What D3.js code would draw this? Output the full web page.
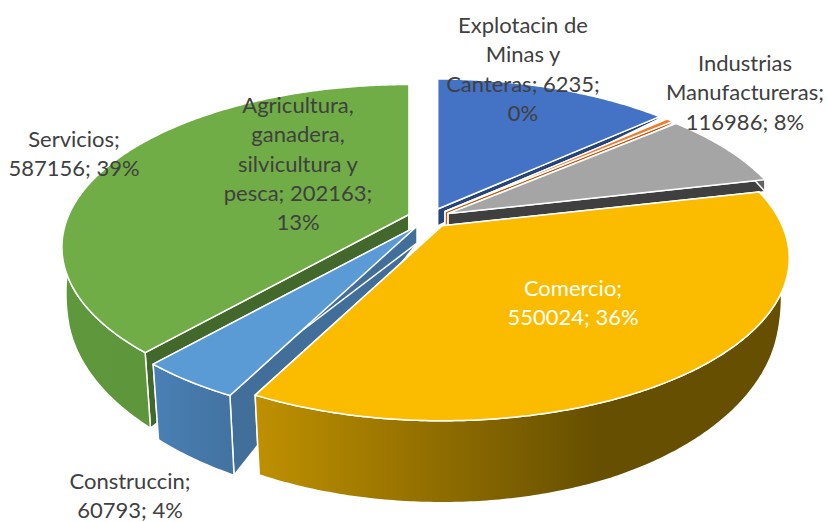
<!DOCTYPE html>
<html><head><meta charset="utf-8">
<script src="https://cdn.jsdelivr.net/npm/d3@7"></script>
<style>html,body{margin:0;padding:0;background:#fff}svg{display:block}</style>
</head><body><svg id="c" width="827" height="522"></svg>
<script>
const categories = ["Agricultura, ganadera, silvicultura y pesca","Explotacin de Minas y Canteras","Industrias Manufactureras","Comercio","Construccin","Servicios"];
const values = [202163, 6235, 116986, 550024, 60793, 587156];
const labelLines = [
  ["Agricultura,","ganadera,","silvicultura y","pesca; 202163;","13%"],
  ["Explotacin de","Minas y","Canteras; 6235;","0%"],
  ["Industrias","Manufactureras;","116986; 8%"],
  ["Comercio;","550024; 36%"],
  ["Construccin;","60793; 4%"],
  ["Servicios;","587156; 39%"]
];
const topColors = ["#4472C4","#ED7D31","#A5A5A5","#FBBC00","#5B9BD5","#70AD47"];
const sideColors = ["#264478","#C55A11","#3F3F3F","#7F6000","#416F9A","#43682B"];
const wallStops = [
  [[0,"#2F5597"],[1,"#2F5597"]],
  [[0,"#C55A11"],[1,"#C55A11"]],
  [[0,"#636363"],[1,"#636363"]],
  [[0,"#BF9000"],[0.64,"#664F00"],[1,"#664F00"]],
  [[0,"#4A80B5"],[1,"#4272A0"]],
  [[0,"#5F983C"],[1,"#5A8E37"]]
];
const labelPos = [[298,105],[523,25],[745,63],[573,288],[130,481],[74,139]];
const labelColors = ["#404040","#404040","#404040","#FFFFFF","#404040","#404040"];

const cx=429, cy=218, A=340, B=156, P=0.2, EXPLODE=0.063, APEX_DEPTH=17;
const svg=d3.select("#c");
const defs=svg.append("defs");
const pie=d3.pie().sort(null).value(d=>d).startAngle(0).endAngle(2*Math.PI);
const arcs=pie(values);
const rimDepth=d3.scaleLinear().domain([-1,-0.67,-0.227,0.1,0.3,0.9,1]).range([0,2,12,45,62,80,82]);
const rimShrink=d3.scaleLinear().domain([-0.2,0.3,0.9]).range([0,0.015,0.022]).clamp(true);
function topPt(a,ax,ay){const u=Math.sin(a),v=-Math.cos(a),w=1-P*v;return [ax+A*u/w, ay+B*v/w];}
function botPt(a,ax,ay){const u=Math.sin(a),v=-Math.cos(a),p=topPt(a,ax,ay);
  const s=rimShrink(v)*(u>0?2:1);
  return [ax+(p[0]-ax)*(1-s), p[1]+rimDepth(v)];}
const line=d3.line();
const order=[0,1,2,5,4,3];
const edge=sel=>sel.attr("stroke","#fff").attr("stroke-width",1.5).attr("stroke-linejoin","round");
order.forEach(i=>{
  const d=arcs[i], mid=(d.startAngle+d.endAngle)/2;
  const ax=cx+A*EXPLODE*Math.sin(mid), ay=cy-B*EXPLODE*Math.cos(mid);
  const n=Math.max(4,Math.ceil((d.endAngle-d.startAngle)/0.01));
  const angles=d3.range(n+1).map(k=>d.startAngle+(d.endAngle-d.startAngle)*k/n);
  const g=svg.append("g");
  const apexT=[ax,ay], apexB=[ax,ay+APEX_DEPTH];
  const sideS=[apexT,topPt(d.startAngle,ax,ay),botPt(d.startAngle,ax,ay),apexB];
  const sideE=[apexT,topPt(d.endAngle,ax,ay),botPt(d.endAngle,ax,ay),apexB];
  [sideS,sideE].forEach(s=>g.append("path").attr("d",line(s)+"Z").attr("fill",sideColors[i]).call(edge));
  const outerT=angles.map(a=>topPt(a,ax,ay)), outerB=angles.map(a=>botPt(a,ax,ay)).reverse();
  const xs=d3.extent(outerT.concat(outerB),p=>p[0]);
  const id="wall"+i;
  const lg=defs.append("linearGradient").attr("id",id).attr("gradientUnits","userSpaceOnUse")
    .attr("x1",xs[0]).attr("x2",xs[1]).attr("y1",0).attr("y2",0);
  wallStops[i].forEach(s=>lg.append("stop").attr("offset",s[0]).attr("stop-color",s[1]));
  g.append("path").attr("d",line(outerT.concat(outerB))+"Z").attr("fill",`url(#${id})`).call(edge);
  g.append("path").attr("d",line([apexT].concat(outerT))+"Z").attr("fill",topColors[i]).call(edge);
});
const LH=29.4;
labelLines.forEach((lines,i)=>{
  const t=svg.append("text").attr("text-anchor","middle").attr("font-family","Lato, Carlito, sans-serif").attr("font-size",22).attr("fill",labelColors[i]);
  lines.forEach((s,k)=>t.append("tspan").attr("x",labelPos[i][0]).attr("y",labelPos[i][1]+k*LH).attr("dy","0.35em").text(s));
});
</script></body></html>
